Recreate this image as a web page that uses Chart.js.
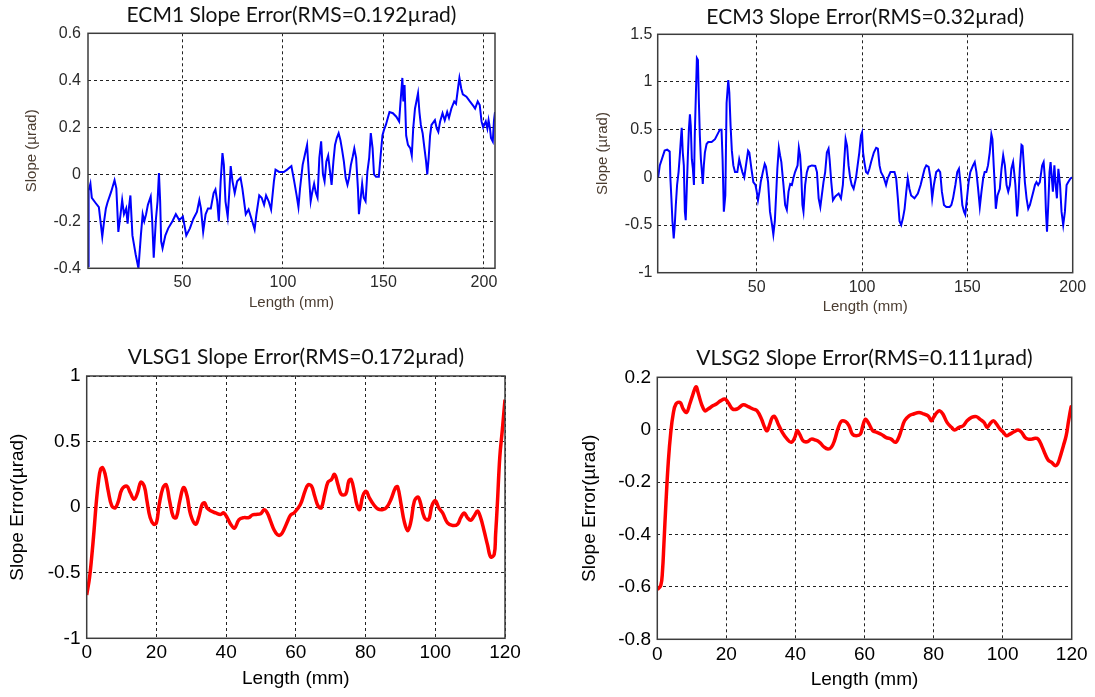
<!DOCTYPE html>
<html><head><meta charset="utf-8">
<script src="https://cdn.jsdelivr.net/npm/chart.js@4.4.1/dist/chart.umd.min.js"></script>
<style>
html,body{margin:0;padding:0;background:#fff;width:1095px;height:697px;overflow:hidden;}
canvas{position:absolute;}
</style></head><body>
<canvas id="c1" width="547" height="330" style="left:0px;top:0px"></canvas>
<canvas id="c2" width="548" height="330" style="left:547px;top:0px"></canvas>
<canvas id="c3" width="547" height="367" style="left:0px;top:330px"></canvas>
<canvas id="c4" width="548" height="367" style="left:547px;top:330px"></canvas>
<script>
// ---------- ECM1 ----------
const ecm1Length = [3.0,3.3,4.2,4.9,6.6,8.4,10.1,11.0,11.9,12.7,14.5,16.2,17.1,18.1,19.2,20.0,20.9,22.0,22.7,23.4,24.1,25.1,26.7,28.1,29.3,30.2,31.0,31.9,32.8,34.2,34.9,35.7,36.8,37.6,38.3,38.9,39.4,40.1,41.5,42.9,45.0,46.7,48.4,50.2,51.9,53.7,55.4,57.2,58.4,59.2,60.3,61.5,62.7,64.1,65.5,66.4,67.3,68.1,69.0,69.9,70.6,71.4,72.5,73.2,74.0,74.9,76.0,77.2,78.9,79.8,81.5,82.9,84.7,85.9,86.8,88.2,89.4,90.6,91.6,92.9,94.1,95.5,96.3,98.1,100.4,102.1,104.2,105.6,106.8,107.7,108.5,109.8,111.2,112.0,112.9,113.8,114.6,115.5,116.4,117.2,118.1,119.0,119.9,120.7,121.6,122.5,123.3,124.2,125.1,125.9,126.8,127.7,128.6,129.4,130.3,131.2,132.1,132.9,133.8,134.7,135.5,136.4,137.3,137.8,138.7,139.4,140.2,141.1,142.0,142.9,143.7,144.6,145.3,146.3,147.7,148.6,149.5,150.3,151.2,153.0,154.7,156.4,157.8,158.5,159.4,159.9,160.5,161.3,162.2,163.4,164.1,164.8,165.7,166.4,167.2,167.9,168.6,169.5,170.4,171.2,171.8,172.5,173.2,173.9,175.6,176.5,177.3,178.2,179.4,180.5,181.7,182.6,183.8,185.2,186.1,187.3,187.8,188.7,189.5,191.3,193.0,194.8,195.6,196.9,197.9,198.8,199.6,200.9,201.7,202.3,203.0,203.5,204.4,205.0,205.5];
const ecm1Slope = [-0.39,-0.07,-0.04,-0.10,-0.12,-0.14,-0.265,-0.20,-0.145,-0.12,-0.075,-0.025,-0.06,-0.245,-0.17,-0.11,-0.17,-0.145,-0.21,-0.14,-0.09,-0.26,-0.34,-0.40,-0.26,-0.17,-0.20,-0.17,-0.13,-0.095,-0.19,-0.355,-0.19,-0.115,0.005,-0.115,-0.285,-0.315,-0.26,-0.23,-0.20,-0.17,-0.195,-0.18,-0.26,-0.23,-0.19,-0.16,-0.11,-0.145,-0.245,-0.17,-0.145,-0.145,-0.08,-0.065,-0.115,-0.20,-0.03,0.09,0.04,-0.115,-0.18,-0.09,0.035,-0.03,-0.08,-0.03,-0.015,-0.06,-0.17,-0.15,-0.20,-0.235,-0.17,-0.09,-0.10,-0.13,-0.09,-0.115,-0.15,-0.03,0.02,0.01,0.01,0.02,0.035,-0.03,-0.09,-0.14,-0.06,0.04,0.095,0.125,0.0,-0.115,-0.075,-0.04,-0.08,-0.10,0.07,0.14,0.0,-0.03,0.055,0.08,0.02,-0.045,0.055,0.125,0.155,0.175,0.145,0.105,0.055,-0.015,-0.045,-0.015,0.04,0.075,0.11,0.07,-0.06,-0.17,-0.10,-0.04,-0.10,-0.115,0.01,0.07,0.175,0.11,0.0,-0.01,-0.01,0.08,0.165,0.19,0.21,0.265,0.26,0.245,0.225,0.31,0.41,0.31,0.38,0.165,0.125,0.11,0.08,0.195,0.28,0.31,0.345,0.265,0.21,0.175,0.11,0.055,0.0,0.07,0.165,0.21,0.23,0.195,0.18,0.225,0.26,0.23,0.265,0.24,0.28,0.31,0.30,0.38,0.41,0.365,0.34,0.33,0.31,0.29,0.28,0.31,0.295,0.225,0.20,0.225,0.195,0.23,0.195,0.155,0.14,0.23,0.265];
const ecm1XTicks = [50,100,150,200];
const ecm1XLabels = ['50','100','150','200'];
const ecm1YTicks = [-0.4,-0.2,0,0.2,0.4,0.6];
const ecm1YLabels = ['-0.4','-0.2','0','0.2','0.4','0.6'];

// ---------- ECM3 ----------
const ecm3Length = [3.2,4.0,6.3,7.5,8.7,9.0,9.5,10.0,10.6,11.1,11.6,12.2,12.9,13.5,14.0,14.4,14.9,15.4,15.9,16.3,16.8,17.3,17.8,18.3,18.7,19.2,19.7,20.2,20.6,21.1,21.6,22.1,22.5,23.0,23.5,24.0,24.4,24.9,25.4,26.2,27.0,28.6,30.2,32.5,33.3,33.8,34.4,35.1,35.7,36.5,37.0,37.6,38.2,38.9,39.7,40.8,41.7,42.4,43.2,44.1,44.9,45.9,46.5,47.5,48.4,49.4,50.0,50.6,51.3,51.9,52.9,53.8,54.4,55.4,56.3,57.3,57.9,58.6,59.2,59.8,60.5,61.1,61.7,62.7,63.5,64.3,65.1,65.9,66.7,67.4,68.2,69.4,70.0,70.6,71.1,71.7,72.2,73.0,73.8,74.6,76.2,77.8,78.6,79.4,80.2,80.9,81.7,82.5,83.3,84.1,84.6,85.4,86.2,87.3,88.9,90.0,90.9,91.6,92.2,92.9,93.6,94.4,95.1,96.0,97.1,97.9,98.7,99.5,100.0,100.5,101.1,101.9,102.7,103.5,104.3,105.6,106.7,107.5,108.3,109.0,110.3,111.4,112.2,113.5,115.4,116.2,117.0,117.8,118.6,119.4,120.2,121.0,121.7,122.5,123.3,124.9,126.5,127.8,128.9,129.7,130.5,131.6,132.5,133.3,134.1,135.2,136.3,137.1,137.9,138.9,140.0,141.6,142.4,143.2,144.3,145.2,146.0,146.8,147.6,148.4,149.0,149.8,150.6,151.4,152.7,153.5,154.3,155.1,155.9,156.7,157.5,158.2,159.0,159.8,160.6,161.4,161.9,162.5,163.0,163.5,164.3,165.4,166.2,167.0,167.8,168.6,169.4,170.2,170.9,171.7,172.2,172.8,173.6,174.1,174.9,175.7,176.2,176.8,177.3,178.1,178.9,179.7,180.5,181.3,182.1,182.8,183.6,184.4,185.5,186.2,186.8,187.3,187.8,188.4,189.0,189.5,190.0,190.6,191.3,191.9,192.5,193.2,194.0,194.7,195.5,196.3,197.1,197.9,199.0,200.0];
const ecm3Slope = [0.0,0.125,0.28,0.29,0.27,0.0,-0.22,-0.46,-0.64,-0.5,-0.29,-0.08,0.055,0.23,0.40,0.52,0.26,0.125,-0.36,-0.45,-0.12,0.21,0.5,0.66,0.54,0.19,0.09,-0.08,0.44,0.85,1.25,1.23,0.83,0.44,0.19,0.055,-0.07,0.125,0.26,0.35,0.37,0.37,0.40,0.5,0.5,0.19,-0.36,-0.19,0.78,1.02,0.89,0.54,0.28,0.125,0.055,0.055,0.19,0.125,0.055,0.0,0.125,0.28,0.26,0.09,-0.05,-0.08,-0.15,-0.24,-0.15,-0.05,0.055,0.14,0.11,-0.05,-0.36,-0.5,-0.6,-0.46,-0.19,0.09,0.31,0.23,0.16,-0.08,-0.29,-0.34,-0.15,-0.07,-0.08,-0.01,0.055,0.125,0.31,0.23,0.055,-0.29,-0.36,-0.08,0.055,0.11,0.125,0.12,0.055,-0.22,-0.31,-0.19,-0.05,0.055,0.26,0.30,0.19,-0.05,-0.24,-0.2,-0.17,-0.22,-0.08,0.19,0.40,0.33,0.125,-0.01,-0.08,-0.12,-0.01,0.125,0.26,0.44,0.47,0.26,0.16,0.055,0.04,0.09,0.16,0.26,0.31,0.30,0.125,0.055,0.0,-0.08,-0.01,0.055,0.055,-0.01,-0.22,-0.46,-0.5,-0.43,-0.33,-0.15,-0.01,-0.12,-0.19,-0.22,-0.17,-0.08,0.02,0.09,0.125,0.11,-0.01,-0.22,-0.08,0.055,0.08,0.055,-0.15,-0.29,-0.31,-0.31,-0.29,-0.22,-0.08,0.055,0.09,-0.08,-0.29,-0.36,-0.39,-0.22,-0.05,0.055,0.125,0.16,0.055,-0.12,-0.31,-0.15,-0.01,0.055,0.055,0.125,0.26,0.45,0.40,0.125,-0.08,-0.33,-0.19,-0.12,0.09,0.23,0.125,-0.08,-0.15,-0.08,0.09,0.16,0.055,-0.08,-0.41,-0.29,0.09,0.34,0.33,0.125,-0.05,-0.22,-0.33,-0.29,-0.22,-0.15,-0.08,-0.05,-0.08,-0.05,0.125,0.16,-0.01,-0.36,-0.57,-0.29,0.055,0.16,0.02,-0.15,0.125,-0.08,-0.22,0.09,-0.08,-0.36,-0.5,-0.36,-0.08,-0.05,-0.01,0.0];
const ecm3XTicks = [50,100,150,200];
const ecm3XLabels = ['50','100','150','200'];
const ecm3YTicks = [-1,-0.5,0,0.5,1,1.5];
const ecm3YLabels = ['-1','-0.5','0','0.5','1','1.5'];

// ---------- VLSG1 ----------
const vlsg1Length = [0,0.8,1.4,2.1,2.7,3.4,4.0,4.6,5.3,6.2,7.2,8.2,9.1,10.1,11.5,12.5,13.6,14.6,15.5,16.5,17.3,18.2,19.2,20.0,20.8,21.9,22.8,23.8,24.8,25.7,26.7,27.8,28.8,29.8,31.2,32.1,33.1,33.8,34.5,35.7,37.0,38.4,39.3,40.3,41.3,42.4,43.7,45.1,46.5,47.5,48.5,49.9,50.9,51.8,52.8,53.7,54.7,55.7,56.6,57.6,58.5,59.5,61.3,62.6,63.5,64.5,65.4,66.4,67.3,68.3,69.2,70.2,71.1,72.1,73.0,74.3,75.2,75.9,76.9,77.5,78.3,79.2,80.2,81.1,82.3,83.5,85.0,86.1,87.3,88.6,89.2,90.2,91.1,92.1,93.0,94.0,95.0,95.6,96.9,98.1,99.0,100.0,101.0,102.1,103.5,105.0,106.4,107.3,108.3,109.2,110.2,111.1,112.1,113.0,114.0,115.0,115.9,116.9,117.3,117.8,118.5,119.2,120.0];
const vlsg1Slope = [-0.67,-0.54,-0.39,-0.18,0.02,0.2,0.29,0.30,0.25,0.12,0.01,-0.005,0.046,0.136,0.16,0.11,0.06,0.11,0.19,0.16,0.046,-0.08,-0.13,-0.12,0.02,0.15,0.17,0.046,-0.07,-0.08,0.046,0.15,0.085,-0.056,-0.13,-0.08,0.02,0.033,-0.005,-0.03,-0.044,-0.056,-0.044,-0.08,-0.13,-0.16,-0.095,-0.08,-0.08,-0.06,-0.056,-0.05,-0.02,-0.044,-0.11,-0.17,-0.21,-0.21,-0.17,-0.11,-0.06,-0.044,0.02,0.12,0.17,0.16,0.085,0.008,-0.005,0.1,0.19,0.21,0.25,0.17,0.1,0.1,0.2,0.21,0.1,0.02,-0.018,0.085,0.12,0.07,0.02,-0.013,-0.018,0.0,0.06,0.15,0.155,0.02,-0.11,-0.18,-0.11,0.046,0.077,0.046,-0.08,-0.095,0.008,0.05,-0.005,-0.044,-0.12,-0.14,-0.13,-0.08,-0.044,-0.08,-0.1,-0.07,-0.03,-0.08,-0.18,-0.29,-0.38,-0.36,-0.21,0.02,0.38,0.58,0.82];
const vlsg1XTicks = [0,20,40,60,80,100,120];
const vlsg1XLabels = ['0','20','40','60','80','100','120'];
const vlsg1YTicks = [-1,-0.5,0,0.5,1];
const vlsg1YLabels = ['-1','-0.5','0','0.5','1'];

// ---------- VLSG2 ----------
const vlsg2Length = [0,1.0,1.5,1.9,2.5,3.2,3.9,4.6,5.4,6.6,7.5,8.5,9.4,10.2,11.2,11.8,12.8,13.8,14.7,16.2,17.1,18.3,19.6,20.5,21.8,23.1,24.9,26.3,27.7,28.9,30.2,31.1,31.8,32.6,33.3,34.0,35.0,36.2,37.6,38.8,39.8,40.5,41.2,42.2,43.4,44.6,45.9,47.0,48.2,49.4,50.4,51.3,52.3,53.3,54.5,55.5,56.5,57.6,58.8,59.5,60.3,61.3,62.4,63.6,64.8,66.3,67.7,68.9,69.7,70.6,71.6,72.9,74.2,75.8,77.1,78.4,79.4,80.0,81.0,81.8,82.7,83.9,85.2,86.1,87.4,88.6,89.7,91.0,92.4,93.4,94.6,95.5,96.3,97.3,98.2,99.2,100.2,101.1,102.1,103.3,104.5,105.5,106.5,107.4,108.4,109.4,110.3,111.3,112.3,113.2,114.2,115.2,115.9,116.6,117.6,118.4,119.1,119.8,120.0];
const vlsg2Slope = [-0.61,-0.595,-0.54,-0.44,-0.28,-0.12,-0.01,0.06,0.098,0.104,0.079,0.066,0.098,0.13,0.164,0.142,0.098,0.072,0.079,0.092,0.098,0.11,0.117,0.104,0.079,0.079,0.095,0.088,0.079,0.072,0.04,0.009,-0.004,0.022,0.047,0.05,0.022,-0.01,-0.036,-0.048,-0.03,-0.004,-0.017,-0.042,-0.046,-0.036,-0.04,-0.048,-0.065,-0.074,-0.067,-0.042,0.003,0.032,0.031,0.015,-0.017,-0.023,-0.017,0.015,0.04,0.022,-0.004,-0.01,-0.017,-0.03,-0.036,-0.048,-0.036,-0.004,0.034,0.053,0.06,0.066,0.06,0.053,0.034,0.047,0.066,0.072,0.06,0.028,0.009,-0.001,0.009,0.015,0.034,0.047,0.05,0.04,0.028,0.009,0.022,0.034,0.022,0.003,-0.01,-0.023,-0.017,-0.008,-0.001,-0.01,-0.03,-0.036,-0.036,-0.033,-0.036,-0.061,-0.093,-0.116,-0.125,-0.137,-0.131,-0.106,-0.061,-0.023,0.034,0.085,0.092];
const vlsg2XTicks = [0,20,40,60,80,100,120];
const vlsg2XLabels = ['0','20','40','60','80','100','120'];
const vlsg2YTicks = [-0.8,-0.6,-0.4,-0.2,0,0.2];
const vlsg2YLabels = ['-0.8','-0.6','-0.4','-0.2','0','0.2'];

const framePlugin = {
  id: 'frame',
  afterDraw(chart) {
    const {left, top, right, bottom} = chart.chartArea;
    const ctx = chart.ctx;
    ctx.save();
    ctx.strokeStyle = '#3c3c3c';
    ctx.lineWidth = 1.5;
    ctx.strokeRect(left, top, right - left, bottom - top);
    ctx.restore();
  }
};

function makePanel(p) {
  const canvas = document.getElementById(p.id);
  const W = canvas.width, H = canvas.height;
  const tlh = p.titleSize * 1.2;
  const tickLH = p.tickSize * 1.2;
  const axLH = p.axisSize * 1.2;
  new Chart(canvas, {
    type: 'line',
    data: {
      datasets: [{
        data: p.xs.map((x, i) => ({x: x, y: p.ys[i]})),
        borderColor: p.lineColor,
        borderWidth: p.lineWidth,
        pointRadius: 0,
        tension: p.tension,
        fill: false
      }]
    },
    options: {
      responsive: false,
      animation: false,
      devicePixelRatio: 1,
      layout: {padding: {left: 0, right: W - p.R, top: 0, bottom: 0}},
      plugins: {
        legend: {display: false},
        tooltip: {enabled: false},
        title: {
          display: true, text: p.title, fullSize: false, color: '#111',
          font: {family: 'Lato', size: p.titleSize, weight: 'normal', lineHeight: 1.2},
          padding: {top: p.titleCY - tlh / 2, bottom: p.T - (p.titleCY - tlh / 2) - tlh}
        }
      },
      scales: {
        x: {
          type: 'linear', min: p.xmin, max: p.xmax,
          afterBuildTicks: s => { s.ticks = p.xTicks.map(v => ({value: v})); },
          afterFit: s => { s.height = H - p.B; },
          grid: {color: '#222', lineWidth: 1, drawTicks: false},
          border: {display: false, dash: [3, 3]},
          ticks: {
            autoSkip: false, maxRotation: 0, padding: p.xTickCY - p.B - tickLH / 2,
            color: p.tickColor, font: {family: 'Liberation Sans', size: p.tickSize, lineHeight: 1.2},
            callback: (v, i) => p.xLabels[i]
          },
          title: {
            display: true, text: p.xTitle, color: p.axisColor,
            font: {family: 'Liberation Sans', size: p.axisSize, lineHeight: 1.2},
            padding: {top: 0, bottom: H - p.xTitleCY - axLH / 2}
          }
        },
        y: {
          type: 'linear', min: p.ymin, max: p.ymax,
          afterBuildTicks: s => { s.ticks = p.yTicks.map(v => ({value: v})); },
          afterFit: s => { s.width = p.L; },
          grid: {color: '#222', lineWidth: 1, drawTicks: false},
          border: {display: false, dash: [3, 3]},
          ticks: {
            autoSkip: false, padding: p.L - p.yTickRight,
            color: p.tickColor, font: {family: 'Liberation Sans', size: p.tickSize, lineHeight: 1.2},
            callback: (v, i) => p.yLabels[i]
          },
          title: {
            display: true, text: p.yTitle, color: p.axisColor,
            font: {family: 'Liberation Sans', size: p.axisSize, lineHeight: 1.2},
            padding: {top: p.yTitleCX - axLH / 2, bottom: 0}
          }
        }
      }
    },
    plugins: [framePlugin]
  });
}

makePanel({id: 'c1', xs: ecm1Length, ys: ecm1Slope, lineColor: '#0000ff', lineWidth: 2, tension: 0,
  L: 88, R: 495, T: 33.3, B: 268.3, xmin: 3, xmax: 205.5, ymin: -0.4, ymax: 0.6,
  xTicks: ecm1XTicks, xLabels: ecm1XLabels, yTicks: ecm1YTicks, yLabels: ecm1YLabels,
  title: 'ECM1 Slope Error(RMS=0.192\u00b5rad)', titleSize: 21, titleCY: 15.6,
  xTitle: 'Length (mm)', yTitle: 'Slope (\u00b5rad)', axisSize: 15, axisColor: '#4a3c30',
  tickSize: 16, tickColor: '#2a2a2a', xTickCY: 283, yTickRight: 81, xTitleCY: 303.3, yTitleCX: 32.3});

makePanel({id: 'c2', xs: ecm3Length, ys: ecm3Slope, lineColor: '#0000ff', lineWidth: 2, tension: 0,
  L: 110.7, R: 525.7, T: 34.3, B: 272.7, xmin: 3, xmax: 200, ymin: -1, ymax: 1.5,
  xTicks: ecm3XTicks, xLabels: ecm3XLabels, yTicks: ecm3YTicks, yLabels: ecm3YLabels,
  title: 'ECM3 Slope Error(RMS=0.32\u00b5rad)', titleSize: 21, titleCY: 17,
  xTitle: 'Length (mm)', yTitle: 'Slope (\u00b5rad)', axisSize: 15, axisColor: '#4a3c30',
  tickSize: 16, tickColor: '#2a2a2a', xTickCY: 287.3, yTickRight: 105.4, xTitleCY: 306.8, yTitleCX: 56.2});

makePanel({id: 'c3', xs: vlsg1Length, ys: vlsg1Slope, lineColor: '#ff0000', lineWidth: 3.5, tension: 0.4,
  L: 86.7, R: 505, T: 46, B: 308.3, xmin: 0, xmax: 120, ymin: -1, ymax: 1,
  xTicks: vlsg1XTicks, xLabels: vlsg1XLabels, yTicks: vlsg1YTicks, yLabels: vlsg1YLabels,
  title: 'VLSG1 Slope Error(RMS=0.172\u00b5rad)', titleSize: 21, titleCY: 27.6,
  xTitle: 'Length (mm)', yTitle: 'Slope Error(\u00b5rad)', axisSize: 19, axisColor: '#000',
  tickSize: 19, tickColor: '#000', xTickCY: 323, yTickRight: 80.5, xTitleCY: 348.6, yTitleCX: 17.5});

makePanel({id: 'c4', xs: vlsg2Length, ys: vlsg2Slope, lineColor: '#ff0000', lineWidth: 3.5, tension: 0.4,
  L: 110.3, R: 524.7, T: 47.3, B: 309.3, xmin: 0, xmax: 120, ymin: -0.8, ymax: 0.2,
  xTicks: vlsg2XTicks, xLabels: vlsg2XLabels, yTicks: vlsg2YTicks, yLabels: vlsg2YLabels,
  title: 'VLSG2 Slope Error(RMS=0.111\u00b5rad)', titleSize: 21, titleCY: 27.9,
  xTitle: 'Length (mm)', yTitle: 'Slope Error(\u00b5rad)', axisSize: 19, axisColor: '#000',
  tickSize: 19, tickColor: '#000', xTickCY: 325, yTickRight: 104, xTitleCY: 350, yTitleCX: 42.8});
</script>
</body></html>
